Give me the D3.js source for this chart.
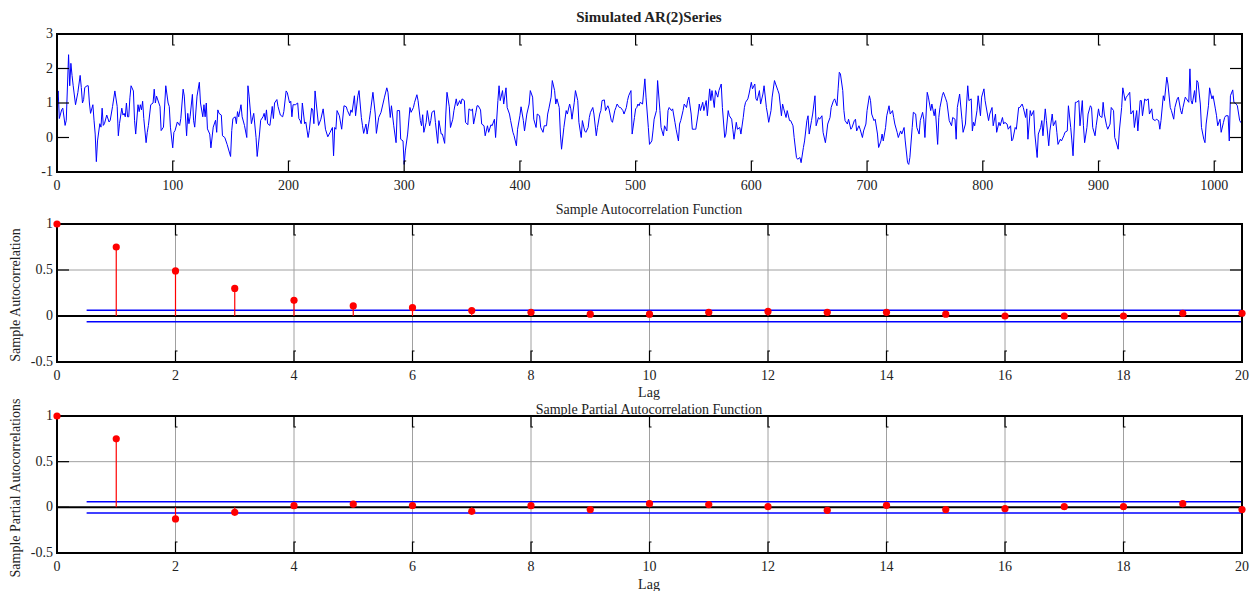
<!DOCTYPE html>
<html>
<head>
<meta charset="utf-8">
<script src="https://cdn.jsdelivr.net/npm/d3@7"></script>
<style>
  body { margin: 0; background: #fff; }
  svg text { font-family: "Liberation Serif", "DejaVu Serif", serif; fill: #222; }
  .grid line { stroke: #a0a0a0; stroke-width: 1; }
</style>
</head>
<body>
<script>
// simulated AR(2) series as [t, value] vertices
var seriesPts = [[0,1.05],[1,1.35],[2,0.55],[4,0.8],[5,0.85],[7,0.35],[8,0.5],[10,2.4],[11,1.5],[12,2.15],[13,1.8],[14,1.5],[16,0.95],[18,1.3],[20,1.8],[21,1.45],[22,1.0],[23,1.1],[24,1.45],[26,1.5],[27,1.5],[28,1.0],[29,0.7],[31,0.95],[32,0.5],[33,0.1],[34,-0.7],[35,-0.1],[37,0.4],[38,0.3],[39,0.85],[40,0.35],[41,0.4],[43,0.65],[45,0.45],[46,0.5],[48,0.9],[50,1.35],[52,0.9],[53,0.05],[54,0.4],[56,0.85],[57,0.65],[58,0.7],[59,0.6],[60,1.0],[61,0.6],[62,0.6],[63,1.15],[64,1.5],[66,1.35],[67,0.5],[68,0.1],[70,0.95],[71,0.75],[72,0.95],[73,0.8],[74,1.05],[75,0.55],[77,-0.15],[78,0.15],[79,0.35],[81,0.95],[83,1.0],[84,1.4],[85,1.0],[86,1.2],[89,0.9],[90,0.2],[92,0.3],[94,1.5],[96,1.0],[97,0.9],[98,0.3],[100,-0.3],[101,0.15],[102,0.2],[104,0.45],[106,0.35],[107,0.55],[109,1.4],[110,1.2],[112,0.05],[113,0.7],[114,0.4],[115,0.6],[117,1.25],[118,0.5],[119,0.3],[121,1.2],[123,1.6],[124,1.0],[126,0.6],[127,0.95],[128,0.6],[129,1.0],[130,0.25],[132,0.1],[133,-0.3],[135,0.3],[137,0.5],[138,0.15],[139,0.8],[140,0.7],[142,0.65],[143,0.05],[145,0.0],[147,-0.2],[150,-0.55],[151,0.2],[152,0.55],[154,0.6],[155,0.4],[156,0.75],[157,0.6],[159,0.95],[160,0.6],[162,0.35],[164,0.0],[165,1.5],[166,1.2],[168,0.4],[170,0.7],[172,0.0],[173,-0.55],[175,0.1],[176,0.5],[178,0.6],[179,0.7],[180,0.5],[181,0.8],[182,0.4],[184,0.35],[186,0.9],[187,0.55],[188,1.0],[190,1.1],[191,0.9],[193,0.65],[195,0.6],[196,0.75],[198,1.35],[199,1.3],[201,1.0],[202,1.05],[203,0.6],[204,0.95],[206,0.95],[208,1.0],[209,0.55],[210,0.5],[211,0.4],[212,1.0],[214,0.4],[215,0.45],[217,0.0],[218,0.2],[220,0.85],[221,0.8],[222,0.4],[223,1.35],[224,1.0],[226,0.35],
[228,0.53],[230,0.83],[232,0.24],[234,0.02],[236,0.15],[238,0.29],[239,-0.53],[240,0.29],[241,0.24],[242,0.78],[244,0.63],[246,0.24],[248,0.92],[250,0.89],[251,0.78],[253,0.63],[254,0.8],[255,0.73],[257,1.21],[258,0.63],[260,1.21],[261,1.36],[263,0.58],[264,0.34],[265,0.12],[267,0.39],[268,0.1],[270,0.53],[271,0.78],[273,1.31],[275,0.68],[276,0.12],[278,0.58],[280,0.73],[283,1.17],[285,1.44],[286,1.31],[288,0.58],[289,0.92],[291,0.34],[293,-0.15],[294,0.78],[296,0.78],[297,-0.05],[299,-0.1],[300,-0.78],[301,-0.39],[303,0.1],[305,0.87],[306,0.73],[308,0.87],[309,1.02],[311,1.24],[312,1.07],[314,0.49],[315,0.34],[316,0.66],[317,0.15],[319,0.44],[320,0.78],[322,0.34],[323,0.49],[324,0.73],[326,0.78],[327,0.44],[329,-0.17],[330,0.49],[332,0.1],[333,0.1],[335,-0.17],[336,0.68],[337,1.31],[339,0.89],[340,0.29],[342,0.53],[343,0.78],[345,1.12],[346,0.92],[348,1.07],[349,0.97],[350,1.12],[352,1.07],[353,0.44],[355,0.37],[356,0.83],[358,0.78],[359,0.83],[360,0.39],[362,0.73],[363,0.92],[364,0.92],[366,0.8],[367,0.39],[369,0.34],[370,0.05],[372,0.34],[373,0.15],[375,0.37],[376,0.34],[378,0.53],[379,0.0],[381,1.07],[382,1.5],[383,1.07],[385,1.36],[386,0.97],[388,1.44],[389,0.87],[391,0.68],[392,0.49],[394,0.15],[395,0.05],[397,-0.24],[398,0.24],[400,0.63],[401,0.89],[403,0.49],[404,0.19],[406,0.68],[408,0.97],[409,1.36],[411,1.17],[412,0.53],[414,0.29],[415,0.68],[417,0.63],[418,0.29],[420,0.15],[421,0.34],[423,0.34],[424,0.68],[425,0.83],[427,1.17],[428,1.65],[430,1.36],[431,0.97],[432,1.12],[434,0.87],[435,0.1],[436,-0.34],[438,0.29],[440,0.78],[441,0.68],[443,0.97],[444,0.83],[445,0.53],[447,1.02],[448,1.36],[450,1.07],[451,0.44],[453,0.0],[454,0.49],[456,0.19],[457,0.15],[459,0.29],[460,0.58],[461,0.73],[463,0.87],[464,0.68],[466,0.05],[467,0.29],[469,0.68],[470,0.78],[471,1.07],[473,1.09],[474,0.78],[476,0.92],[477,0.83],[479,0.49],[480,0.44],[482,0.78],[483,0.87],[484,0.97],[486,0.87],[487,0.87],[489,0.78],[490,0.68],[492,0.87],[493,1.07],[494,1.21],[496,1.36],[497,0.1],[499,0.58],[500,0.83],
[501,0.87],[502,0.97],[503,0.92],[504,1.02],[506,0.97],[508,1.7],[509,1.17],[511,0.29],[512,-0.2],[514,-0.1],[515,0.19],[516,0.53],[518,0.78],[519,1.65],[521,0.78],[522,0.29],[524,0.05],[525,0.34],[527,0.19],[528,0.78],[529,0.87],[531,0.78],[532,0.83],[534,0.44],[535,0.24],[537,-0.1],[538,0.39],[539,0.49],[541,0.78],[542,0.97],[544,0.87],[545,1.07],[546,1.17],[548,0.68],[549,0.24],[551,0.24],[552,0.24],[554,0.68],[555,0.97],[556,0.78],[558,1.02],[559,0.78],[561,1.07],[562,0.63],[564,1.41],[565,1.07],[566,1.36],[568,0.87],[569,1.36],[571,1.17],[572,1.36],[574,1.55],[575,0.87],[577,0.0],[578,0.1],[580,0.78],[581,0.63],[583,0.53],[584,0.24],[585,-0.05],[587,0.44],[588,0.24],[590,0.29],[591,0.1],[593,0.58],[594,0.87],[595,1.02],[597,1.12],[598,1.26],[600,1.6],[601,1.41],[603,1.55],[604,1.12],[605,1.07],[607,1.36],[608,0.97],[610,1.26],[611,1.5],[613,0.87],[614,0.68],[615,0.44],[617,0.78],[618,1.17],[620,1.65],[621,1.55],[623,1.36],[624,1.26],[626,0.63],[627,0.97],[628,0.83],[630,0.58],[631,0.78],[633,0.49],[634,0.49],[636,0.34],[637,0.0],[639,-0.58],[640,-0.63],[642,-0.58],[643,-0.73],[645,-0.29],[646,-0.1],[648,0.49],[649,0.63],[650,0.1],[652,0.49],[653,0.68],[655,1.21],[656,0.34],[658,0.58],[659,0.53],[661,0.63],[662,0.15],[664,-0.15],[665,0.1],[666,0.39],[668,0.58],[669,0.87],[671,1.07],[672,1.12],[674,0.92],[675,1.41],[676,1.89],[677,1.84],[679,1.36],[680,0.78],[681,0.49],[683,0.39],[684,0.53],[686,0.24],[687,0.29],[689,0.49],[690,0.53],[691,0.19],[693,0.34],[694,0.24],[696,0.0],[697,0.19],[699,0.39],[700,0.78],[702,1.21],[703,1.07],[704,0.68],[706,0.49],[707,0.53],[709,0.1],[710,-0.29],[712,-0.1],[713,0.1],[714,-0.1],[716,0.29],[717,0.63],[719,0.92],[720,0.68],[722,0.78],[723,0.58],[724,0.39],[726,0.15],[727,0.0],[729,0.19],[730,0.1],[732,0.29],[733,-0.1],[735,-0.73],[736,-0.78],[737,-0.58],[739,0.29],[740,0.73],[742,0.68],[743,0.29],[745,0.1],[746,0.49],[748,0.73],[749,0.53],[750,0.0],[752,1.31],[753,1.17],[755,0.78],[756,0.97],[758,0.63],[759,0.83],[761,-0.2],[762,0.58],[763,0.87],[765,1.21],[766,1.31],[768,1.12],[769,1.02],[771,0.49],
[773,0.34],[774,0.58],[776,0.53],[777,-0.05],[778,0.87],[780,1.26],[782,0.53],[783,0.15],[785,0.39],[786,0.97],[787,1.5],[788,1.07],[790,1.12],[791,0.19],[792,0.44],[793,0.34],[795,0.78],[796,1.21],[798,0.63],[799,1.17],[801,1.41],[802,1.07],[804,0.68],[805,0.49],[806,0.68],[808,0.87],[809,0.34],[811,0.68],[812,0.15],[814,0.44],[815,0.34],[817,0.58],[818,0.39],[819,0.44],[821,0.39],[822,0.24],[824,0.34],[825,-0.1],[826,-0.05],[828,0.29],[829,0.24],[831,0.87],[832,0.87],[834,0.97],[835,0.87],[837,0.58],[838,0.83],[839,-0.05],[841,0.78],[842,0.63],[844,0.78],[845,0.1],[847,-0.58],[848,0.1],[850,0.29],[851,0.49],[852,0.05],[854,0.83],[855,0.49],[857,-0.24],[858,0.19],[860,0.68],[861,0.34],[863,0.49],[864,0.15],[865,-0.2],[867,-0.05],[868,-0.1],[870,0.05],[871,0.15],[873,0.19],[874,0.92],[876,0.29],[877,-0.1],[878,-0.53],[880,1.02],[881,1.02],[883,1.07],[884,0.34],[886,1.07],[887,0.34],[888,-0.15],[890,0.29],[891,0.68],[893,0.92],[894,0.87],[895,0.29],[897,0.05],[898,0.34],[900,0.83],[901,0.63],[903,0.58],[904,1.02],[905,0.68],[907,0.34],[908,0.24],[910,0.39],[911,0.87],[913,0.78],[914,0.0],[915,-0.1],[917,-0.34],[918,0.19],[920,0.87],[921,1.44],[923,1.07],[924,1.17],[925,1.21],[927,1.31],[928,0.68],[930,0.78],[931,0.29],[933,0.78],[934,0.19],[936,1.07],[937,1.07],[938,0.63],[940,1.12],[941,1.07],[943,1.12],[944,0.68],[946,0.83],[947,0.53],[949,0.49],[950,0.53],[952,0.49],[953,0.24],[954,0.49],[956,1.21],[957,1.07],[959,1.75],[960,1.55],[962,0.87],[963,0.78],[965,0.53],[966,0.87],[968,1.12],[969,1.17],[971,0.78],[972,0.68],[973,0.87],[975,1.17],[976,1.12],[978,1.02],[979,1.99],[980,1.07],[981,0.97],[983,1.36],[984,1.02],[985,1.65],[986,1.6],[988,0.97],[989,0.29],[991,-0.05],[992,-0.15],[993,0.39],[995,0.92],[996,1.44],[998,1.12],[999,1.21],[1001,0.83],[1002,0.63],[1003,0.34],[1005,0.53],[1006,0.15],[1008,0.44],[1009,0.58],[1010,0.63],[1012,0.63],[1013,-0.1],[1014,1.21],[1016,1.38],[1017,1.02],[1019,0.97],[1020,0.92],[1022,0.49],[1023,0.44],[1024,0.39]];

var lags = d3.range(0, 21);
var acfValues  = [1, 0.75, 0.49, 0.30, 0.17, 0.11, 0.09, 0.06, 0.04, 0.02, 0.02, 0.04, 0.05, 0.04, 0.04, 0.02, 0.0, 0.0, 0.0, 0.03, 0.03];
var pacfValues = [1, 0.75, -0.127, -0.055, 0.018, 0.036, 0.02, -0.044, 0.018, -0.025, 0.04, 0.03, 0.007, -0.033, 0.022, -0.025, -0.015, 0.007, 0.007, 0.04, -0.025];
var confBound = 0.0625;

var seriesXTicks = d3.range(0, 1001, 100);
var seriesYTicks = [-1, 0, 1, 2, 3];
var lagTicks = d3.range(0, 21, 2);
var corrTicks = [-0.5, 0, 0.5, 1];

var W = 1254, H = 591;
var left = 57, right = 1242;

var svg = d3.select("body").append("svg")
    .attr("width", W)
    .attr("height", H);

// inward ticks drawn on all four sides, matlab style
function frameTicks(g, x, y, xt, yt, top, bottom) {
    var tl = 11;
    xt.forEach(function(t) {
        var px = x(t);
        if (px <= left + 1 || px >= right - 1) return;
        g.append("path")
            .attr("d", "M" + px + "," + top + "v" + tl + "h2M" + px + "," + bottom + "v" + (-tl) + "h2")
            .attr("fill", "none").attr("stroke", "#000").attr("stroke-width", 1.2);
    });
    yt.forEach(function(t) {
        var py = y(t);
        if (py <= top + 1 || py >= bottom - 1) return;
        g.append("line").attr("x1", left).attr("x2", left + 12).attr("y1", py).attr("y2", py)
            .attr("stroke", "#000").attr("stroke-width", 1.2);
        g.append("line").attr("x1", right).attr("x2", right - 12).attr("y1", py).attr("y2", py)
            .attr("stroke", "#000").attr("stroke-width", 1.2);
    });
}

function frame(g, top, bottom) {
    g.append("rect")
        .attr("x", left).attr("y", top)
        .attr("width", right - left).attr("height", bottom - top)
        .attr("fill", "none").attr("stroke", "#000").attr("stroke-width", 2);
}

function tickLabels(g, x, y, xt, yt, fmtY, bottom, labY) {
    g.selectAll(".xl").data(xt).enter().append("text")
        .attr("x", function(d) { return x(d); })
        .attr("y", labY)
        .attr("text-anchor", "middle")
        .attr("font-size", 14)
        .text(function(d) { return d; });
    g.selectAll(".yl").data(yt).enter().append("text")
        .attr("x", left - 4)
        .attr("y", function(d) { return y(d) + 4; })
        .attr("text-anchor", "end")
        .attr("font-size", 14)
        .text(fmtY);
}

// ---- panel 1: the series
(function() {
    var top = 34, bottom = 172;
    var x = d3.scaleLinear().domain([0, 1024]).range([left, right]);
    var y = d3.scaleLinear().domain([-1, 3]).range([bottom, top]);
    var g = svg.append("g");

    g.append("path")
        .datum(seriesPts)
        .attr("fill", "none")
        .attr("stroke", "#0000ff")
        .attr("stroke-width", 1)
        .attr("d", d3.line().x(function(d) { return x(d[0]); }).y(function(d) { return y(d[1]); }));

    frame(g, top, bottom);
    frameTicks(g, x, y, seriesXTicks, seriesYTicks, top, bottom);
    tickLabels(g, x, y, seriesXTicks, seriesYTicks, function(d) { return d; }, bottom, 190);

    g.append("text")
        .attr("x", 649).attr("y", 22)
        .attr("text-anchor", "middle")
        .attr("font-size", 15)
        .attr("font-weight", "bold")
        .text("Simulated AR(2)Series");
})();

// ---- panels 2 and 3: stem plots
function stemPanel(vals, top, bottom, title, titleY, ylab, ylabY, labY, lagY) {
    var x = d3.scaleLinear().domain([0, 20]).range([left, right]);
    var y = d3.scaleLinear().domain([-0.5, 1]).range([bottom, top]);
    var g = svg.append("g");

    var grid = g.append("g").attr("class", "grid");
    lagTicks.forEach(function(t) {
        grid.append("line").attr("x1", x(t)).attr("x2", x(t)).attr("y1", top).attr("y2", bottom);
    });
    grid.append("line").attr("x1", left).attr("x2", right).attr("y1", y(0.5)).attr("y2", y(0.5));

    // zero line
    g.append("line")
        .attr("x1", x(0)).attr("x2", x(20)).attr("y1", y(0)).attr("y2", y(0))
        .attr("stroke", "#000").attr("stroke-width", 2);

    // confidence bounds
    [confBound, -confBound].forEach(function(b) {
        g.append("line")
            .attr("x1", x(0.5)).attr("x2", x(20)).attr("y1", y(b)).attr("y2", y(b))
            .attr("stroke", "#0000ff").attr("stroke-width", 1.5);
    });

    g.selectAll(".stem").data(lags).enter().append("line")
        .attr("x1", function(d) { return x(d); })
        .attr("x2", function(d) { return x(d); })
        .attr("y1", y(0))
        .attr("y2", function(d) { return y(vals[d]); })
        .attr("stroke", function(d) { return d === 0 ? "#c00000" : "#ff0000"; })
        .attr("stroke-width", 1.2);

    frame(g, top, bottom);
    frameTicks(g, x, y, lagTicks, corrTicks, top, bottom);

    g.selectAll(".dot").data(lags).enter().append("circle")
        .attr("cx", function(d) { return x(d); })
        .attr("cy", function(d) { return y(vals[d]); })
        .attr("r", 3.6)
        .attr("fill", "#ff0000");

    tickLabels(g, x, y, lagTicks, corrTicks, function(d) { return d; }, bottom, labY);

    g.append("text")
        .attr("x", 649).attr("y", titleY)
        .attr("text-anchor", "middle")
        .attr("font-size", 14)
        .text(title);
    g.append("text")
        .attr("x", 649).attr("y", lagY)
        .attr("text-anchor", "middle")
        .attr("font-size", 14)
        .text("Lag");
    g.append("text")
        .attr("transform", "translate(20," + ylabY + ") rotate(-90)")
        .attr("text-anchor", "middle")
        .attr("font-size", 14)
        .text(ylab);
}

stemPanel(acfValues, 224, 362, "Sample Autocorrelation Function", 214,
    "Sample Autocorrelation", 295, 380, 397);
stemPanel(pacfValues, 416, 553, "Sample Partial Autocorrelation Function", 414,
    "Sample Partial Autocorrelations", 488, 571, 589);
</script>
</body>
</html>
